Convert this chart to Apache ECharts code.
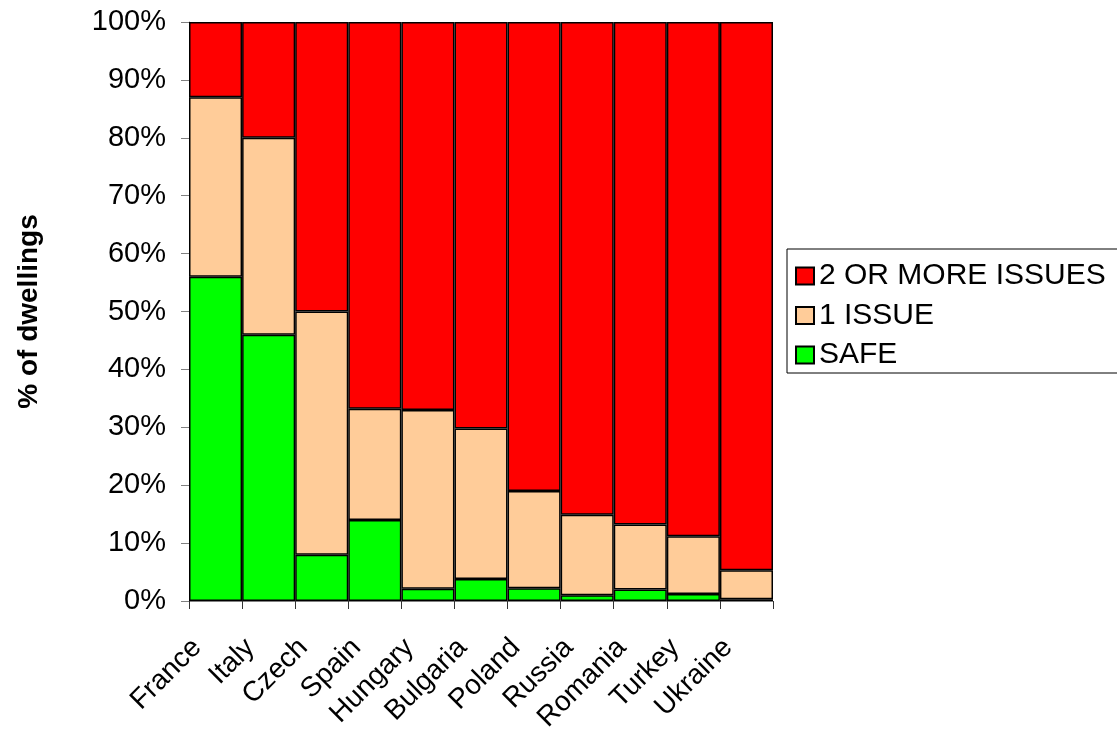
<!DOCTYPE html>
<html>
<head>
<meta charset="utf-8">
<script src="https://cdn.jsdelivr.net/npm/echarts@6/dist/echarts.min.js"></script>
<style>
  html, body { margin: 0; padding: 0; background: #ffffff; }
  #chart { width: 1117px; height: 735px; }
</style>
</head>
<body>
<div id="chart"></div>
<script>
// Share of dwellings by number of safety issues, per country (%)
const countries = ['France', 'Italy', 'Czech', 'Spain', 'Hungary', 'Bulgaria', 'Poland', 'Russia', 'Romania', 'Turkey', 'Ukraine'];
const safe      = [56, 46, 8, 14, 2.1, 3.8, 2.2, 1.0, 2.0, 1.2, 0.3];
const oneIssue  = [31, 34, 42, 19.2, 30.9, 26.0, 16.8, 13.9, 11.2, 10.0, 5.0];
const twoPlus   = [13, 20, 50, 66.8, 67.0, 70.2, 81.0, 85.1, 86.8, 88.8, 94.7];
const seriesNames = ['2 OR MORE ISSUES', '1 ISSUE', 'SAFE'];

const FONT = '"Liberation Sans", Arial, sans-serif';

const chart = echarts.init(document.getElementById('chart'), null, { renderer: 'canvas' });

function barSeries(name, data, color) {
  return {
    name: name,
    type: 'bar',
    stack: 'total',
    data: data,
    barCategoryGap: 0,
    barGap: 0,
    itemStyle: { color: color, borderColor: '#000000', borderWidth: 1.5 },
    emphasis: { disabled: true }
  };
}

chart.setOption({
  animation: false,
  backgroundColor: '#ffffff',
  textStyle: { fontFamily: FONT },
  grid: { left: 189, right: 344, top: 22, bottom: 134, containLabel: false, outerBoundsMode: 'none' },
  legend: {
    orient: 'vertical',
    left: 787,
    top: 249,
    data: seriesNames,
    icon: 'rect',
    itemWidth: 18,
    itemHeight: 17,
    itemGap: 9.5,
    padding: [12, 12, 3, 8],
    borderColor: '#000000',
    borderWidth: 1,
    textStyle: { fontFamily: FONT, fontSize: 30, color: '#000000', lineHeight: 30 }
  },
  xAxis: {
    type: 'category',
    data: countries,
    boundaryGap: true,
    axisLine: { show: true, lineStyle: { color: '#808080', width: 1 } },
    axisTick: { show: true, alignWithLabel: false, length: 8, lineStyle: { color: '#333333' } },
    axisLabel: {
      rotate: 45,
      interval: 0,
      margin: 24,
      padding: [0, 26, 0, 0],
      fontFamily: FONT,
      fontSize: 28,
      color: '#000000'
    },
    splitLine: { show: false }
  },
  yAxis: {
    type: 'value',
    min: 0,
    max: 100,
    interval: 10,
    name: '% of dwellings',
    nameLocation: 'middle',
    nameGap: 146,
    nameRotate: 90,
    nameTextStyle: { fontFamily: FONT, fontSize: 28, fontWeight: 'bold', color: '#000000' },
    axisLine: { show: true, lineStyle: { color: '#808080', width: 1 } },
    axisTick: { show: true, length: 8, lineStyle: { color: '#808080' } },
    axisLabel: {
      formatter: '{value}%',
      margin: 23,
      fontFamily: FONT,
      fontSize: 29,
      color: '#000000'
    },
    splitLine: { show: false }
  },
  series: [
    barSeries('SAFE', safe, '#00ff00'),
    barSeries('1 ISSUE', oneIssue, '#ffcc99'),
    barSeries('2 OR MORE ISSUES', twoPlus, '#ff0000')
  ]
});
</script>
</body>
</html>
